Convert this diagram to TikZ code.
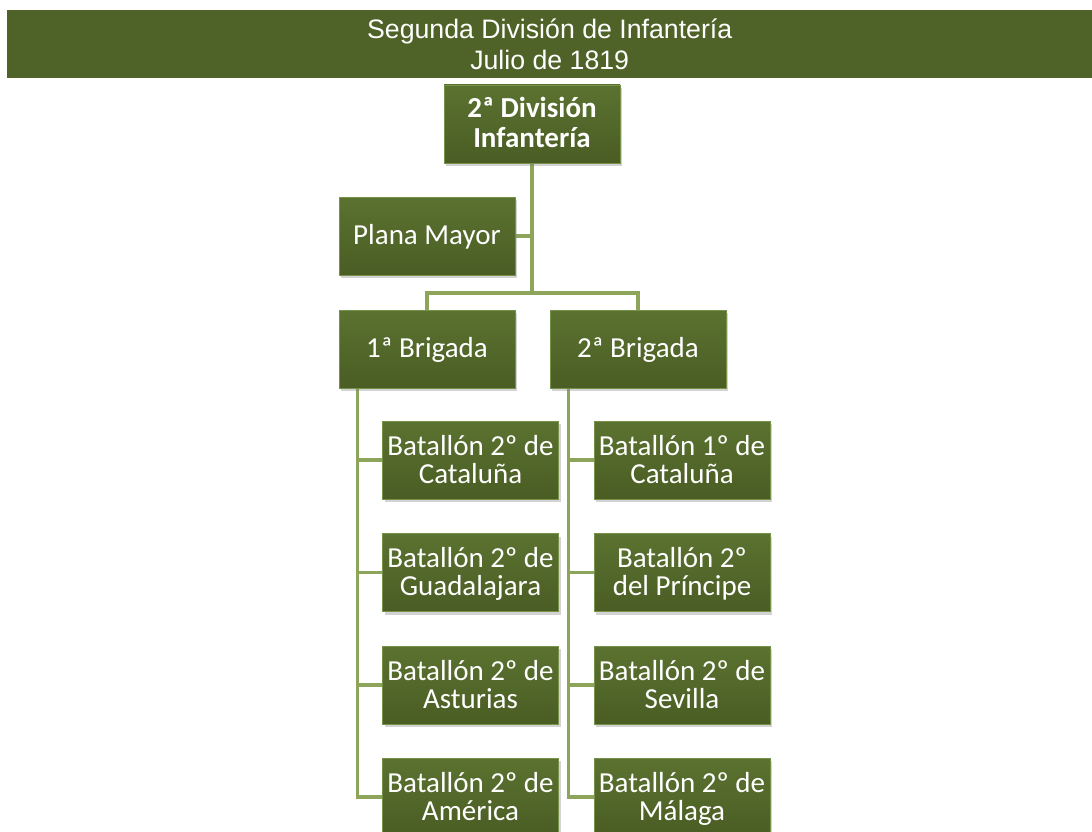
\documentclass[tikz,border=0pt]{standalone}
\usepackage{fontspec}
\setmainfont{Carlito}
\newfontfamily\headfont{Liberation Sans}
\usetikzlibrary{shadows,backgrounds}
\definecolor{banner}{HTML}{4F6228}
\definecolor{boxtop}{HTML}{5B7230}
\definecolor{boxbot}{HTML}{4A5D24}
\definecolor{boxedge}{HTML}{76924A}
\definecolor{linkc}{HTML}{8CA55A}
\newcommand{\twol}[2]{\rule{0pt}{26.4pt}#1\\#2\rule[-8.4pt]{0pt}{0pt}}
\newcommand{\onel}[1]{\rule[-8pt]{0pt}{32pt}#1}
\tikzset{
  unitbox/.style={rectangle, minimum width=176pt, minimum height=78pt, inner sep=0pt,
    top color=boxtop, bottom color=boxbot, draw=boxedge, line width=0.8pt,
    drop shadow={shadow xshift=2pt, shadow yshift=-3pt, opacity=0.35},
    text=white, align=center, font=\fontsize{29}{28}\selectfont},
  link/.style={draw=linkc, line width=3.5pt},
}
\begin{document}
\begin{tikzpicture}[x=1pt,y=-1pt]
\useasboundingbox (0,0) rectangle (1092,832);
\node[fill=banner, minimum width=1085pt, minimum height=68pt, inner sep=0pt, anchor=north west, text=white, align=center, font=\headfont\fontsize{26.7}{31}\selectfont] (banner) at (7,10) {Segunda División de Infantería\\Julio de 1819};
\node[unitbox, font=\bfseries\fontsize{29}{30}\selectfont] (top) at (532,124) {\rule{0pt}{25pt}2ª División\\Infantería\rule[-9pt]{0pt}{0pt}};
\node[unitbox] (pm) at (427,236) {\onel{Plana Mayor}};
\node[unitbox] (b1) at (427,349) {\onel{1ª Brigada}};
\node[unitbox] (b2) at (638,349) {\onel{2ª Brigada}};
\node[unitbox] (l1) at (470.5,460) {\twol{Batallón 2º de}{Cataluña}};
\node[unitbox] (l2) at (470.5,572.5) {\twol{Batallón 2º de}{Guadalajara}};
\node[unitbox] (l3) at (470.5,685) {\twol{Batallón 2º de}{Asturias}};
\node[unitbox] (l4) at (470.5,797) {\twol{Batallón 2º de}{América}};
\node[unitbox] (r1) at (682,460) {\twol{Batallón 1º de}{Cataluña}};
\node[unitbox] (r2) at (682,572.5) {\twol{Batallón 2º}{del Príncipe}};
\node[unitbox] (r3) at (682,685) {\twol{Batallón 2º de}{Sevilla}};
\node[unitbox] (r4) at (682,797) {\twol{Batallón 2º de}{Málaga}};
\coordinate (bus) at (532,293);
\begin{scope}[on background layer]
  \draw[link] (top.south) -- (bus);
  \draw[link] (pm.east) -- (pm.east -| top.south);
  \draw[link] (b1.north) |- (bus) -| (b2.north);
  \foreach \n in {l1,l2,l3,l4}{\draw[link] ([xshift=19pt]b1.south west) |- (\n.west);}
  \foreach \n in {r1,r2,r3,r4}{\draw[link] ([xshift=19pt]b2.south west) |- (\n.west);}
\end{scope}
\end{tikzpicture}
\end{document}
